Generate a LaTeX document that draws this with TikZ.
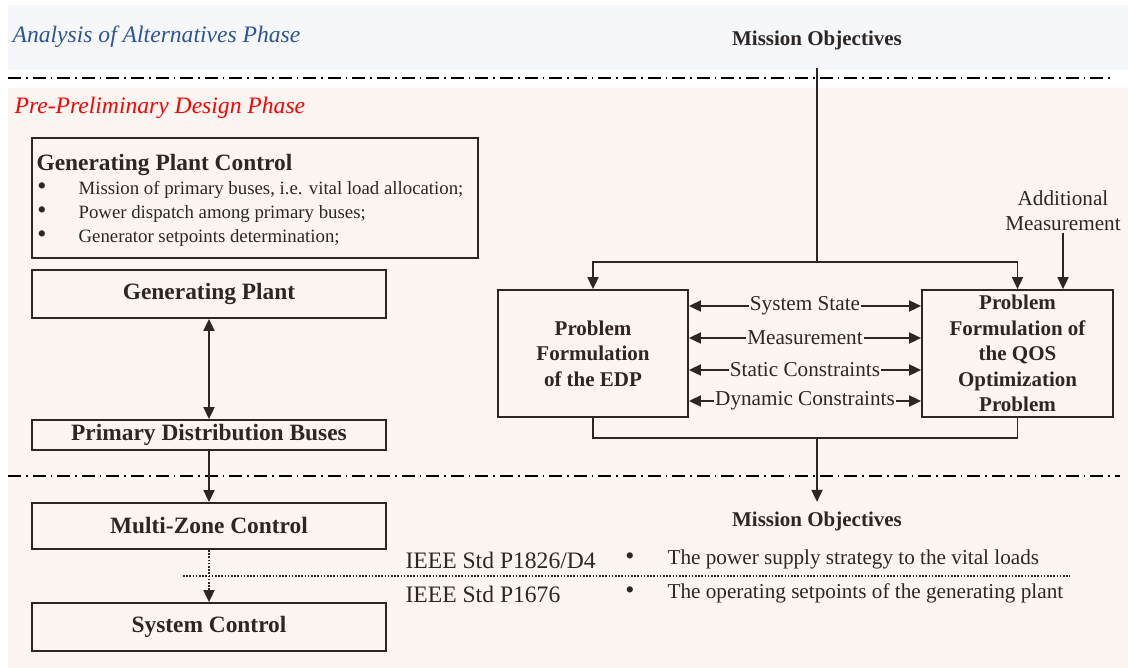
\documentclass[tikz,border=0pt]{standalone}
\usepackage{fontspec}
\setmainfont{Liberation Serif}
\usetikzlibrary{arrows.meta,positioning}
\definecolor{ink}{RGB}{45,38,36}
\definecolor{bandblue}{RGB}{245,247,251}
\definecolor{bandpink}{RGB}{253,245,241}
\definecolor{phaseblue}{RGB}{47,84,150}

\begin{document}
\begin{tikzpicture}[x=0.5pt, y=-0.5pt,
  box/.style={draw=ink, line width=0.9pt, text=ink, align=center, inner sep=1pt,
    font=\fontsize{10.5}{12.75}\selectfont\bfseries},
  wide/.style={box, minimum width=177pt, minimum height=24pt, inner sep=0.5pt,
    font=\fontsize{11.7}{13}\selectfont\bfseries},
  lbl/.style={text=ink, inner sep=0.6pt, font=\fontsize{10.6}{12.5}\selectfont},
  bold/.style={lbl, font=\fontsize{10.5}{12.5}\selectfont\bfseries},
  small/.style={lbl, font=\fontsize{9.4}{11}\selectfont},
  dot/.style={lbl, anchor=base, font=\fontsize{13}{13}\selectfont},
  arr/.style={draw=ink, line width=0.9pt, -{Triangle[length=6pt,width=5.5pt]}},
  darr/.style={arr, {Triangle[length=6pt,width=5.5pt]}-{Triangle[length=6pt,width=5.5pt]}},
  phase/.style={line width=0.9pt, dash pattern=on 6.5pt off 2.5pt on 0.8pt off 2.5pt},
  phasename/.style={anchor=west, inner sep=0.6pt, font=\fontsize{11.8}{13}\selectfont\itshape}]
 \useasboundingbox (0,0) rectangle (1128,668);
 \fill[bandblue] (8,5) rectangle (1128,70);
 \fill[bandpink] (8,88) rectangle (1128,668);
 \draw[phase] (8,78) -- (1110,78);
 \draw[phase] (8,476) -- (1120,476);
 \node[phasename, text=phaseblue] (aoa) at (11,37) {Analysis of Alternatives Phase};
 \node[phasename, text=red] (ppd) at (13,108) {Pre-Preliminary Design Phase};

 \node[box, minimum width=223pt, minimum height=60pt] (gpc) at (255,198) {};
 \node[bold, anchor=west, font=\fontsize{11.7}{13}\selectfont\bfseries] (gpct) at (35,165)
   {Generating Plant Control};
 \foreach \y/\t [count=\i] in {190/{Mission of primary buses, i.e. vital load allocation;},
     214/{Power dispatch among primary buses;}, 238/{Generator setpoints determination;}} {
   \node[small, anchor=west] (gpci\i) at (77,\y) {\t};
   \node[dot] (gpcb\i) at (gpci\i.base -| 42,0) {\textbullet};
 }

 \node[wide] (gp) at (209,294) {Generating Plant};
 \node[wide, minimum height=15pt] (pdb) at (209,435) {Primary Distribution Buses};
 \node[wide, minimum height=23pt] (mzc) at (209,526) {Multi-Zone Control};
 \node[wide] (sc) at (209,627) {System Control};
 \draw[darr] (gp) -- (pdb);
 \draw[arr] (pdb) -- (mzc);
 \draw[arr, dash pattern=on 0.8pt off 0.8pt] (mzc) -- (sc);
 \draw[ink, line width=0.8pt, dash pattern=on 0.8pt off 0.8pt] (183,576) -- (1070,576);

 \node[lbl, anchor=west, font=\fontsize{11.8}{13}\selectfont] (std1) at (404,560) {IEEE Std P1826/D4};
 \node[lbl, anchor=west, font=\fontsize{11.8}{13}\selectfont] (std2) at (404,594) {IEEE Std P1676};
 \node[lbl, anchor=west] (mt1) at (666,559) {The power supply strategy to the vital loads};
 \node[lbl, anchor=west] (mt2) at (666,593) {The operating setpoints of the generating plant};
 \node[dot] (mb1) at (mt1.base -| 630,0) {\textbullet};
 \node[dot] (mb2) at (mt2.base -| 630,0) {\textbullet};

 \node[bold] (mtop) at (817,40) {Mission Objectives};
 \node[box, minimum width=95pt, minimum height=63.5pt] (edp) at (593,353.5)
   {Problem\\Formulation\\of the EDP};
 \node[box, minimum width=95.5pt, minimum height=63.5pt] (qos) at (1017.5,353.5)
   {Problem\\Formulation of\\the QOS\\Optimization\\Problem};
 \coordinate (mo) at (817,68);
 \coordinate (sp) at (817,262);
 \draw[ink, line width=0.9pt] (mo) -- (sp);
 \draw[arr] (sp) -| (edp.north);
 \draw[arr] (sp) -| (qos.north);
 \node[lbl, align=center] (addm) at (1063,211) {Additional\\Measurement};
 \draw[arr] (addm.south) -- (addm.south |- qos.north);
 \foreach \y/\t [count=\i] in {306/System State, 338/Measurement,
     370/Static Constraints, 401/Dynamic Constraints}
   \draw[darr] (edp.east |- 0,\y) -- node[lbl, fill=bandpink] (ex\i) {\t} (qos.west |- 0,\y);

 \coordinate (jn) at (817,438);
 \draw[ink, line width=0.9pt] (edp.south) |- (jn) -| (qos.south);
 \node[bold] (mbot) at (817,521) {Mission Objectives};
 \draw[arr] (jn) -- ([yshift=4pt]mbot.north);
\end{tikzpicture}
\end{document}
